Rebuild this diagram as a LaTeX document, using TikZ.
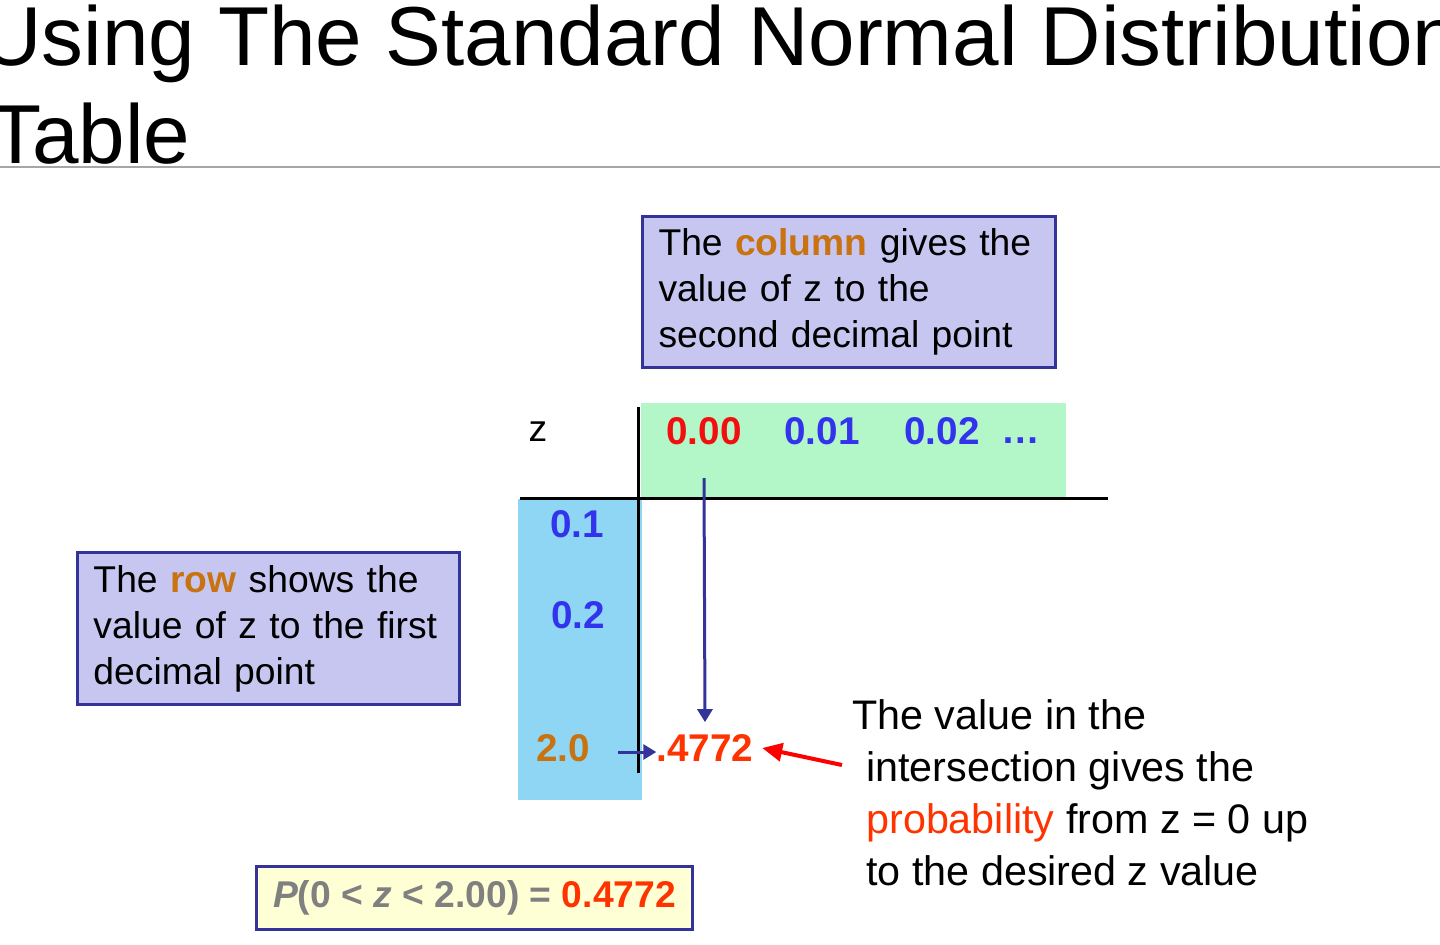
\documentclass[tikz,border=0pt]{standalone}
\usepackage{fontspec}
\setmainfont{Liberation Sans}
\usetikzlibrary{positioning, arrows.meta}

\definecolor{navy}{HTML}{333399}
\definecolor{lavender}{HTML}{C6C6F1}
\definecolor{mint}{HTML}{B3F7C9}
\definecolor{sky}{HTML}{8ED6F4}
\definecolor{amber}{HTML}{C87210}
\definecolor{zblue}{HTML}{3333EE}
\definecolor{zred}{HTML}{F20F0F}
\definecolor{hot}{HTML}{FF3300}
\definecolor{cream}{HTML}{FFFFD6}
\definecolor{fgray}{HTML}{808080}

\begin{document}
\begin{tikzpicture}[
    x=0.02cm, y=-0.02cm,
    font=\fontsize{21.2}{26.2}\selectfont,
    note/.style={rectangle, draw=navy, fill=lavender, line width=0.06cm,
                 anchor=north west, align=left, inner xsep=0.32cm, inner ysep=0pt},
    headnum/.style={font=\fontsize{22}{26}\selectfont\bfseries, inner sep=0pt},
    titletext/.style={anchor=base west, inner sep=0pt, font=\fontsize{47.6}{56}\selectfont},
    rule/.style={line width=0.06cm},
    arrow/.style={-{Triangle[length=0.26cm, width=0.3cm]}, draw=navy, line width=0.06cm},
    pointer/.style={-{Triangle[length=0.4cm, width=0.36cm]}, draw=red, line width=0.08cm}
]
\clip (0,0) rectangle (1440,944);

% --- Titulo ---
\node[titletext] (title) at (-19,65) {Using The Standard Normal Distribution};
\node[titletext] (subtitle) at (-10,163) {Table};
\draw[gray!70, line width=0.03cm] (0,167) -- (1440,167);

% --- Fondos de la tabla ---
\fill[mint] (641,403) rectangle (1066,497);
\fill[sky] (518,499) rectangle (642,800);
\draw[rule] (520,498) -- (1108,498);
\draw[rule] (638,407) -- (638,773);

% --- Cuadros de texto ---
\node[note, text width=7.62cm, minimum height=3.02cm] (colnote) at (641,215)
    {The \textcolor{amber}{\bfseries column} gives the\\ value of z to the\\ second decimal point};
\node[note, text width=7.0cm, minimum height=3.04cm] (rownote) at (76,551)
    {The \textcolor{amber}{\bfseries row} shows the\\ value of z to the first\\ decimal point};
\node[anchor=west, align=left, inner sep=0pt, font=\fontsize{23.5}{29.6}\selectfont] (explain) at (852,793)
    {The value in the\\ \hspace*{0.28cm}intersection gives the\\
     \hspace*{0.28cm}\textcolor{hot}{probability} from z = 0 up\\ \hspace*{0.28cm}to the desired z value};

% --- Encabezados ---
\node (zlabel) at (538,432) {z};
\node[headnum, text=zred] (c0) at (704,431) {0.00};
\node[headnum, text=zblue] (c1) at (822,431) {0.01};
\node[headnum, text=zblue] (c2) at (942,431) {0.02};
\node[headnum, text=zblue] (cdots) at (1021,441) {…};

\node[headnum, text=zblue] (r1) at (577,524) {0.1};
\node[headnum, text=zblue] (r2) at (578,615) {0.2};
\node[headnum, text=amber] (r20) at (563,748) {2.0};
\node[headnum, text=hot] (val) at (705,748) {.4772};

% --- Resultado ---
\node[draw=navy, fill=cream, line width=0.06cm, minimum width=8.74cm, minimum height=1.26cm,
      font=\fontsize{21.2}{25}\selectfont\bfseries, text=fgray] (result) at (474.5,897.5)
    {\textit{P}(0 < \textit{z} < 2.00) = \textcolor{hot}{0.4772}};

% --- Flechas ---
\draw[arrow] ([yshift=-0.66cm]c0.south) -- ([yshift=0.24cm]val.north);
\draw[arrow] ([xshift=0.56cm, yshift=-0.08cm]r20.east) -- ([yshift=-0.08cm]val.west);
\coordinate (tail) at (842,765);
\draw[pointer] (tail) -- ([xshift=0.17cm]val.east);

\end{tikzpicture}
\end{document}
